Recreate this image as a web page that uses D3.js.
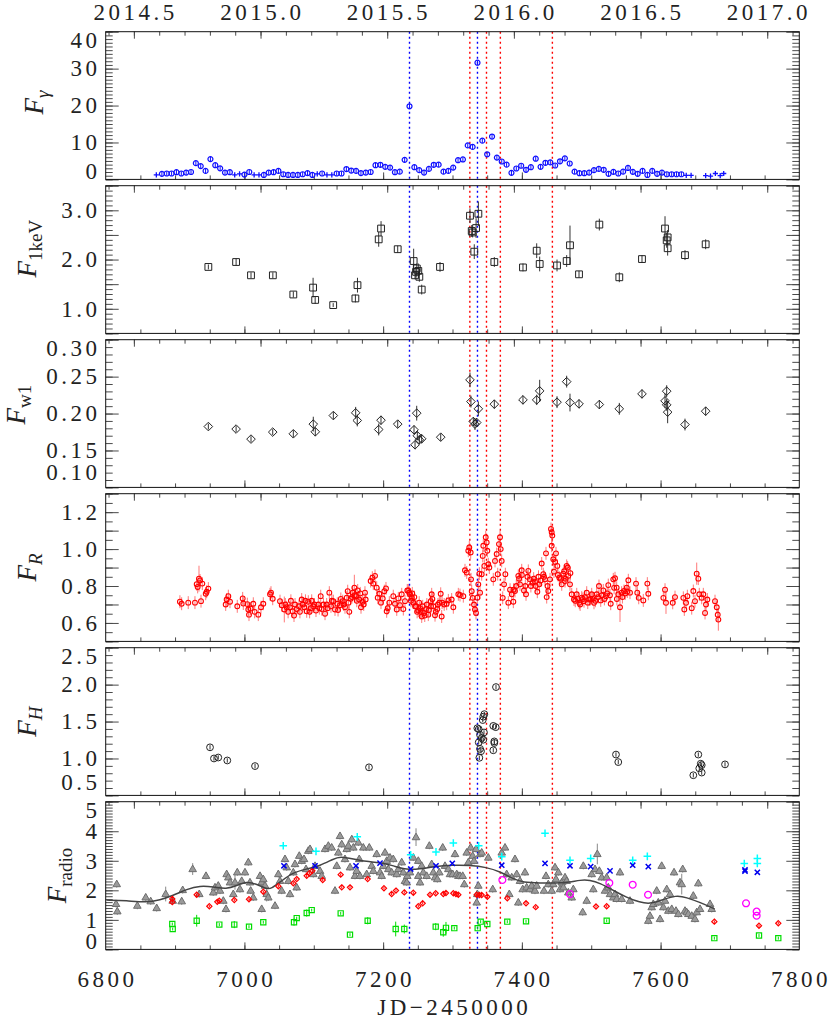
<!DOCTYPE html>
<html>
<head>
<meta charset="utf-8">
<script src="https://cdn.jsdelivr.net/npm/d3@7"></script>
<style>
body { margin: 0; background: #fff; }
svg { display: block; }
</style>
</head>
<body>
<svg id="chart" width="830" height="1021"></svg>
<script>
// ---- data: [JD-2450000, flux, (error)] ----
const fermiDet = [[6881,1.5],[6888,1.6],[6895,1.6],[6902,1.95],[6909,1.6],[6916,1.85],[6923,2.0],[6930,4.4],[6937,3.6],[6944,2.3],[6951,5.5],[6958,3.85],[6965,3.0],[6972,1.85],[6979,1.95],[7000,1.3],[7007,2.0],[7028,1.2],[7035,1.85],[7042,1.95],[7049,2.3],[7056,1.4],[7063,1.2],[7070,1.2],[7077,1.2],[7084,1.4],[7091,1.7],[7098,1.2],[7112,1.6],[7133,1.6],[7140,1.6],[7147,2.8],[7154,2.4],[7161,2.3],[7168,1.7],[7175,1.85],[7182,2.0],[7189,3.85],[7196,3.95],[7203,3.4],[7210,3.2],[7217,1.95],[7224,2.1],[7231,5.3],[7238,19.8],[7245,3.3],[7252,2.5],[7259,1.85],[7266,2.85],[7273,3.95],[7280,4.0],[7287,2.1],[7294,2.3],[7301,3.2],[7308,5.2],[7315,5.4],[7322,9.2],[7329,8.8],[7336,31.6],[7343,10.5],[7350,6.8],[7357,11.6],[7364,5.9],[7371,4.85],[7378,4.0],[7385,1.77],[7392,2.95],[7399,3.7],[7406,2.6],[7413,3.3],[7420,5.6],[7427,3.4],[7434,4.5],[7441,4.6],[7448,3.76],[7455,4.9],[7462,5.7],[7469,4.3],[7476,2.1],[7483,1.68],[7490,1.68],[7497,1.85],[7504,2.5],[7511,2.85],[7518,2.6],[7525,1.5],[7532,2.04],[7539,1.6],[7546,2.1],[7553,3.1],[7560,2.04],[7567,1.5],[7574,2.3],[7581,1.2],[7588,2.3],[7595,1.5],[7602,1.85],[7609,1.4],[7616,1.4],[7623,1.4],[7630,1.4]];
const fermiUL = [[6873,1.2],[6986,1.2],[6993,1.5],[7014,1.2],[7021,1.2],[7105,1.5],[7119,1.2],[7126,1.2],[7637,1.1],[7644,1.1],[7665,1.0],[7672,0.9],[7679,1.6],[7686,1.0],[7691,1.6]];
const fermiErr = 0.6;

const xray1keV = [[6948,1.85,0.05],[6988,1.95,0.07],[7009.5,1.68,0.06],[7041,1.68,0.06],[7070.5,1.29,0.06],[7099,1.43,0.2],[7102,1.18,0.08],[7128,1.075,0.04],[7160,1.21,0.08],[7163,1.48,0.15],[7193.6,2.41,0.15],[7197,2.63,0.15],[7221,2.21,0.07],[7244,1.97,0.25],[7246,1.68,0.08],[7247.5,1.75,0.1],[7248.5,1.82,0.1],[7250.7,1.77,0.15],[7252.2,1.65,0.1],[7255.6,1.39,0.1],[7282,1.85,0.1],[7325.2,2.89,0.15],[7327.7,2.58,0.12],[7329,2.55,0.1],[7331.4,2.16,0.15],[7334,2.64,0.2],[7337.3,2.93,0.25],[7360.3,1.95,0.1],[7401.6,1.84,0.08],[7421.4,2.18,0.15],[7425.7,1.91,0.15],[7450.7,1.88,0.12],[7464.6,1.97,0.12],[7469.4,2.29,0.4],[7482.4,1.70,0.07],[7511.7,2.71,0.12],[7540.5,1.64,0.1],[7573.2,2.01,0.08],[7606.4,2.63,0.25],[7608.8,2.39,0.15],[7610.2,2.45,0.15],[7610.2,2.23,0.15],[7635.2,2.09,0.1],[7665,2.31,0.1]];

const uvw1 = [[6948,0.1824,0.004],[6988,0.179,0.004],[7009.5,0.1654,0.004],[7040.8,0.1749,0.004],[7070.5,0.1726,0.005],[7099.3,0.1857,0.01],[7102.2,0.1753,0.006],[7128.2,0.1973,0.005],[7160.4,0.201,0.008],[7162.7,0.1906,0.008],[7193.6,0.1784,0.008],[7196.9,0.191,0.006],[7221,0.1857,0.005],[7244.5,0.178,0.006],[7248.4,0.2005,0.01],[7246,0.1577,0.006],[7249.3,0.1699,0.006],[7252.2,0.1645,0.006],[7255.6,0.1658,0.006],[7283,0.168,0.005],[7325.2,0.2456,0.01],[7326.6,0.2162,0.008],[7330,0.1892,0.006],[7332.4,0.1857,0.008],[7334.9,0.1878,0.006],[7337.3,0.2064,0.01],[7360.3,0.2127,0.006],[7401.6,0.2185,0.006],[7421.4,0.2185,0.007],[7425.7,0.2307,0.015],[7450.7,0.2154,0.008],[7464.6,0.2432,0.008],[7469.4,0.2149,0.012],[7482.4,0.2131,0.006],[7511.7,0.2122,0.006],[7540.5,0.2064,0.008],[7573.2,0.2266,0.006],[7606.4,0.2172,0.01],[7608.8,0.2303,0.008],[7608.8,0.2118,0.008],[7610.2,0.2019,0.015],[7635.2,0.1851,0.008],[7665,0.2032,0.006]];

const optR = [[6907,0.715],[6909.5,0.704],[6919,0.71],[6928.7,0.71],[6931.2,0.81],[6932.6,0.795],[6934.5,0.84,0.07],[6936,0.83],[6937.4,0.718],[6939.3,0.813],[6944.2,0.758],[6945.6,0.769],[6948,0.786],[6973,0.70],[6974.4,0.727],[6976.8,0.745],[6979.2,0.715],[6989.7,0.69],[6997.5,0.733],[6998.4,0.705],[7004.2,0.702],[7005.6,0.673],[7006.6,0.645],[7009,0.678],[7012.8,0.704],[7014.8,0.66],[7020,0.645],[7023.9,0.685],[7027.2,0.704],[7036.9,0.755],[7038.3,0.764],[7040.8,0.731],[7051.3,0.718],[7053.8,0.696],[7057.5,0.673,0.07],[7061,0.685],[7065.7,0.685],[7069.6,0.663],[7071.5,0.64],[7075.4,0.675],[7078.7,0.69],[7082.6,0.727],[7086.3,0.685],[7089.8,0.663],[7092.1,0.715],[7095.6,0.68],[7099.3,0.69],[7103.2,0.667],[7106.5,0.70],[7110,0.745],[7111.4,0.675],[7116.2,0.65],[7118.6,0.70],[7122.4,0.764],[7124.8,0.69],[7128.2,0.718],[7130.6,0.673],[7133.9,0.704],[7137.8,0.696],[7141.7,0.718],[7145,0.685],[7147.5,0.737],[7148.9,0.772],[7151.2,0.66],[7153.2,0.731],[7156.1,0.764],[7158.5,0.791,0.07],[7160.9,0.745],[7163.3,0.776],[7165.6,0.727],[7168.1,0.685],[7170.5,0.715],[7173.8,0.764],[7174.8,0.727],[7182,0.827],[7184.4,0.845],[7185.8,0.813],[7188.3,0.855],[7190.7,0.791],[7192.2,0.737],[7194.5,0.758],[7196.9,0.71],[7199.4,0.733],[7201.7,0.772],[7204.1,0.787],[7205.1,0.663],[7206.6,0.68],[7208.9,0.71],[7214.6,0.745],[7217.1,0.704],[7219.6,0.673],[7221.9,0.733],[7224.3,0.696],[7226.8,0.755],[7229.1,0.675],[7231.5,0.718],[7234.8,0.776],[7236.3,0.776],[7237.7,0.764],[7238.7,0.755],[7241.2,0.737],[7243.5,0.71],[7246,0.69],[7247.4,0.69],[7250.7,0.667],[7253.2,0.68],[7255.6,0.635],[7258.9,0.654],[7261.8,0.675],[7265.1,0.645],[7268.6,0.718],[7270,0.755],[7272.3,0.69],[7274.8,0.642],[7278.1,0.675],[7281,0.71],[7283,0.758],[7284.4,0.635],[7291.6,0.704],[7294,0.722],[7298.8,0.727],[7301.2,0.685],[7308.4,0.755],[7310.8,0.751],[7315.6,0.745],[7318,0.885],[7320.5,0.873],[7322.8,0.991],[7324.2,1.009],[7326.2,0.982],[7326.7,0.836],[7327.7,0.772],[7329.1,0.736],[7331,0.70],[7332.4,0.673],[7333.9,0.654],[7335.8,0.737],[7337.2,0.809],[7338.7,0.867],[7339.7,0.764],[7342.1,0.864],[7343.6,0.963],[7344.4,1.018],[7345.9,0.909],[7347.9,1.064],[7349.3,1.036],[7350.2,0.991],[7351.6,0.918],[7353.1,0.90],[7358.8,0.836],[7361.3,0.936],[7363.7,0.973],[7365.2,0.864],[7367,1.027],[7368.5,1.064],[7369.5,1.0],[7370.9,0.936],[7372.4,0.736],[7374.3,0.809],[7376.2,0.864],[7380.5,0.71],[7385.4,0.755],[7387.7,0.715],[7390.1,0.773],[7394.9,0.855],[7397.3,0.809],[7399.8,0.885],[7403.1,0.776],[7406,0.755],[7409.3,0.882],[7411.7,0.836],[7415.6,0.818],[7418.9,0.824],[7422.3,0.769],[7425.2,0.809],[7428.6,0.922],[7430.9,0.864],[7433.4,0.836],[7434.8,0.977],[7435.8,0.74],[7438.1,0.773],[7440.6,0.836],[7442,1.109],[7443,1.091],[7443.9,1.073],[7443,1.018],[7445.3,0.945],[7446.3,0.878],[7449.2,0.977],[7451.1,0.909],[7454,0.845],[7457.5,0.809],[7459.8,0.867],[7462.2,0.827],[7464.6,0.909],[7467,0.855],[7469.4,0.809],[7471.9,0.755],[7475.2,0.727],[7479.1,0.755],[7482.8,0.709],[7486.3,0.737],[7489.6,0.718],[7493.5,0.764],[7497.2,0.727],[7500.7,0.755],[7504,0.709],[7507.9,0.755],[7511.2,0.80],[7513.7,0.722],[7517.4,0.776],[7521.3,0.745],[7524.6,0.805],[7528.1,0.704],[7531.8,0.836],[7534.3,0.842],[7536.7,0.791],[7539,0.755],[7541.5,0.685,0.08],[7543.9,0.764],[7547.2,0.773],[7551.2,0.791],[7553.5,0.831],[7555.9,0.764],[7564.6,0.813],[7566.4,0.764],[7568.5,0.736],[7575.1,0.722],[7580.9,0.813],[7582.3,0.758],[7604,0.736],[7606.4,0.78],[7607.8,0.709,0.06],[7617.5,0.709],[7620.8,0.74],[7632.8,0.736],[7634.2,0.673],[7636.7,0.709],[7638.6,0.745],[7644.9,0.68],[7647.2,0.773],[7649.6,0.718],[7652.1,0.867,0.06],[7654.4,0.84],[7655.8,0.755],[7659.3,0.736],[7661.6,0.755],[7664.1,0.654],[7665.5,0.70],[7667.4,0.727],[7678.5,0.718],[7681,0.685],[7682.4,0.645],[7683.3,0.618,0.06],
    [7059,0.70],[7063,0.66],[7067,0.72],[7073,0.70],[7080,0.66],[7084,0.70],[7088,0.72],[7094,0.66],[7097,0.72],[7101,0.70],[7108,0.68],[7114,0.70],[7120,0.68],[7126,0.72],[7135,0.67],[7139,0.73],[7143,0.70],[7150,0.71],[7155,0.74],[7159,0.75],[7162,0.72],[7167,0.76],[7172,0.70],
    [7240,0.72],[7242,0.76],[7245,0.74],[7249,0.66],[7252,0.71],[7254,0.66],[7257,0.69],[7260,0.64],[7263,0.70],[7266,0.67],[7269,0.69],[7271,0.73],[7276,0.66],[7279,0.70],[7285,0.71],[7288,0.70],
    [7383,0.78],[7388,0.78],[7392,0.80],[7396,0.84],[7400,0.86],[7405,0.80],[7408,0.85],[7413,0.80],[7417,0.84],[7420,0.80],[7424,0.85],[7427,0.83],[7432,0.85],[7437,0.80],[7448,0.93],[7452,0.86],[7456,0.84],[7461,0.88],[7463,0.84],[7466,0.90],[7470,0.87],
    [7477,0.72],[7481,0.73],[7484,0.70],[7488,0.73],[7491,0.74],[7495,0.71],[7499,0.73],[7502,0.73],[7506,0.72],[7510,0.74],[7515,0.75],[7519,0.73],[7523,0.76],[7527,0.75],[7533,0.79],[7537,0.73],[7545,0.74],[7549,0.76],[7552,0.77]];
const optRErr = 0.035;

const nirH = [[6950.4,1.151],[6956.1,1.0],[6962.3,1.013],[6975.3,0.973],[7015.3,0.897],[7179.6,0.88],[7335.8,1.41],[7337.8,1.397],[7339.7,1.32],[7337.8,1.218],[7339.7,1.13],[7338.7,1.009],[7341.1,1.098],[7342.1,1.277],[7343.6,1.52],[7344.4,1.566],[7345.9,1.60],[7344.4,1.254],[7345.4,1.352],[7358.8,1.441],[7362.3,1.424],[7360.3,1.231],[7358.8,1.111],[7360.3,1.21],[7362.7,1.967],[7535.7,1.053],[7539,0.951],[7654.4,1.053],[7657.9,0.929],[7659.3,0.91],[7655.8,0.866],[7659.3,0.809],[7647.2,0.773],[7692.9,0.92]];
const nirHErr = 0.03;

const radio15 = [[6815.9,2.21],[6814.9,1.54],[6816.7,1.29],[6845.6,1.48],[6857.7,1.76],[6864.9,1.63],[6873.5,1.40],[6886.5,1.875,0.25],[6896.6,1.65],[6909.6,1.63],[6911,2.01],[6925.4,2.72,0.2],[6934.9,1.875],[6944.6,2.49],[6955.1,1.93],[6957.6,2.10],[6962.3,2.16],[6964.8,1.99],[6969.6,1.65],[6973.4,1.37],[6974.4,2.55],[6976.8,2.44],[6979.2,2.27],[6984,1.875],[6986.4,2.27,0.25],[6989.7,2.61],[6993.6,2.04],[6996.1,2.32],[7000.8,2.61],[7005.6,2.95],[7008,2.27],[7009,1.99],[7012.8,1.76],[7022.5,2.49],[7024.9,2.27],[7027.2,2.38],[7029.7,2.16],[7032.1,1.875,0.25],[7034.4,1.76],[7024.9,1.37],[7044.1,1.48],[7048.9,2.55],[7051.3,2.32],[7053.7,1.99],[7058.5,3.06],[7061,2.78],[7063.3,2.32],[7065.7,1.875],[7070.5,2.61],[7072.9,2.89],[7075.4,2.10],[7079.1,3.17],[7082.6,3.0],[7085.9,3.06],[7088.8,2.72],[7092.1,3.34],[7094.6,3.40],[7099.3,2.55],[7101.8,2.83],[7109,2.66],[7111.4,2.49],[7116.2,3.40],[7121,3.51],[7125.8,3.45],[7130.6,1.99],[7133.1,2.83],[7135.4,3.28],[7137.8,3.84],[7140.3,3.56],[7145,3.06],[7147.5,3.40],[7149.8,3.51],[7152.2,2.78],[7154.8,3.73],[7157,3.45],[7159.4,2.49],[7161.9,2.66],[7164.2,3.62],[7165.6,3.06],[7166.6,2.49],[7171.4,3.45],[7176.3,2.55],[7180,3.45],[7183.5,2.83],[7185.8,2.66],[7190.7,3.23],[7195.5,2.61],[7197.9,2.49],[7200.2,2.83],[7202.7,3.28],[7205.1,3.0],[7207.5,2.72],[7209.9,3.11],[7212.3,2.61],[7214.6,3.06],[7219.6,2.55],[7221.9,2.72],[7226.8,2.95],[7229.1,2.61],[7231.5,2.32],[7234.8,2.49],[7238.7,2.61],[7243.5,3.11],[7247.4,3.80,0.3],[7250.7,3.0],[7234,2.27],[7250.7,2.49],[7253.2,2.27],[7255.6,2.83],[7257.9,2.61],[7262.8,2.49],[7266.6,3.51],[7270,2.89],[7272.3,2.61],[7274.8,2.44],[7278.1,2.38],[7281,2.61],[7285.9,3.45],[7289.2,2.83],[7294,2.72],[7296.4,2.55],[7300.3,2.55],[7303.6,3.23],[7306.1,2.55],[7308.4,2.49],[7310.8,2.49],[7314.7,2.49],[7317,2.21],[7320.5,3.28],[7322.8,2.95],[7326.2,3.45],[7329.1,3.17],[7331,3.0],[7333.9,3.40],[7334.9,1.59],[7335.8,1.875],[7337.2,2.16],[7339.7,3.23],[7342.1,3.28],[7351.6,3.11],[7358,2.04],[7371,3.28],[7375.7,3.45],[7378.1,2.55],[7381.9,1.875],[7385.4,2.44],[7390.1,3.06],[7392.6,2.55],[7394.9,1.59],[7397.3,2.32],[7401.2,2.04],[7404.5,2.61],[7406.9,2.10],[7411.7,2.04],[7414.2,2.16],[7418.9,1.99],[7421.4,2.16],[7431.9,1.99],[7434.8,2.49],[7438.1,2.21],[7443,1.99],[7445.3,2.21],[7447.8,2.78],[7449.2,2.38],[7452.6,2.61],[7455,2.04],[7457.5,2.27],[7459.8,2.10],[7462.2,2.44],[7464.6,2.32],[7467,1.93],[7471.9,1.76],[7474.2,2.04],[7487.7,1.26],[7488.6,2.83],[7493.5,1.65],[7500.7,2.55],[7503,2.04],[7505.5,2.72],[7508.8,3.23,0.35],[7511.7,2.66],[7515.1,2.44],[7519.9,1.99],[7522.3,2.44],[7524.6,2.10],[7527.1,1.875],[7531.8,1.76],[7534.3,1.875],[7536.7,1.71],[7541.5,2.61],[7543.9,1.71],[7555.9,1.65],[7582.3,0.97],[7584.7,1.14],[7587.2,1.43],[7589.5,1.54],[7594.4,1.99],[7596.7,1.59],[7599.2,1.03],[7601.6,2.83],[7604,1.43],[7606.4,1.65],[7608.9,2.04],[7611.2,1.31],[7613.6,1.875],[7616.1,1.37],[7619.4,2.61],[7622.2,1.31],[7625.6,1.20],[7628,2.27],[7630.5,2.21,0.35],[7631.9,2.72],[7635.2,1.31],[7637.6,1.26],[7640,1.20],[7644.9,1.14],[7647.2,1.82],[7649.6,1.03],[7652.1,1.26],[7654.4,2.24],[7656.9,1.37],[7671.3,1.54],[7673.7,1.37]];
const radio15Err = 0.12;
const radioSmooth = [[6801,1.67],[6830,1.65],[6859,1.59],[6878,1.67],[6897,1.82],[6917,2.04],[6936,2.16],[6955,2.12],[6974,2.04],[6989,2.16],[7003,2.30],[7018,2.21],[7032,2.04],[7039,2.06],[7051,2.27],[7070,2.61],[7090,2.72],[7109,2.83],[7128,3.06],[7138,3.15],[7157,3.06],[7176,2.97],[7195,2.95],[7215,2.83],[7234,2.69],[7253,2.72],[7272,2.80],[7301,2.86],[7325,2.85],[7349,2.78],[7368,2.64],[7388,2.38],[7402,2.27],[7426,2.25],[7450,2.24],[7469,2.27],[7484,2.35],[7498,2.35],[7513,2.24],[7532,1.99],[7551,1.76],[7570,1.59],[7585,1.54],[7599,1.65],[7623,1.84],[7637,1.76],[7657,1.59],[7678,1.37]];
const radioRed = [[6896,1.71],[6896,1.60],[6931.2,1.85],[6949.4,1.46],[6960.9,1.61],[6963.8,1.65],[6985.4,1.67],[7006.6,1.70],[7027.2,1.95],[7048.9,2.14],[7070.5,2.24],[7075.4,2.38],[7089.8,2.49],[7093.6,2.58],[7097.9,2.66],[7112.9,2.35],[7138.8,2.53],[7140.3,2.10],[7152.2,2.10],[7177.7,2.38],[7201.2,2.07],[7212.3,1.875],[7218.5,1.99],[7230.5,1.93],[7243.5,1.92],[7250.7,1.46],[7257,1.56],[7267.6,1.85],[7275.8,1.90],[7286.7,1.875],[7290.6,1.91],[7301.2,1.90],[7305,1.875],[7308.4,1.85],[7334.9,1.85],[7338.7,1.84],[7342.1,1.84],[7350.2,1.78],[7379,1.73],[7406,1.56],[7420,1.43],[7506.9,1.45],[7522.3,1.46],[7677.5,0.94],[7741.9,0.80],[7769.7,0.885]];
const radioGreen = [[6896,0.86],[6896.6,0.69],[6931.2,0.97,0.2],[6963.8,0.84],[6985.4,0.84,0.12],[7006.6,0.77],[7027.2,0.92],[7071.5,0.92,0.12],[7075.4,1.06],[7089.8,1.23,0.12],[7097,1.33],[7138.8,1.22],[7152.2,0.50],[7177.7,0.97,0.12],[7218.1,0.69,0.25],[7230.5,0.69,0.15],[7275.8,0.77,0.12],[7286.7,0.58,0.15],[7290.6,0.73,0.2],[7302.6,0.72],[7336.3,0.72],[7340.6,0.94],[7350.2,0.86],[7379,0.94],[7406,0.95],[7522.3,0.97],[7677.5,0.38],[7741.9,0.47],[7769.7,0.38]];
const radioBlue = [[7057,2.83],[7101.8,2.83],[7160.9,2.83],[7195.5,2.92],[7239.7,2.72],[7276.2,2.83],[7299.7,2.91],[7371,2.85],[7433.4,2.91],[7469.4,2.83],[7499.2,2.80],[7527.1,2.66],[7559.8,2.85],[7582.3,2.80],[7721.7,2.69],[7721.7,2.65],[7739.5,2.61]];
const radioCyan = [[7056,3.51],[7103.2,3.32],[7162.7,3.81],[7239.7,3.20],[7276.2,3.30],[7301.2,3.60],[7337.8,3.51],[7371,3.14],[7433.4,3.93],[7469.4,3.02],[7499.2,3.08],[7559.8,3.02],[7580.9,3.15],[7720.7,2.91],[7739.5,3.08],[7739.5,2.91]];
const radioMagenta = [[7371.9,2.35],[7469.4,1.875],[7526.1,2.25],[7559.8,2.19],[7581.9,1.85],[7723.2,1.56],[7738.5,1.28],[7738.5,1.14]];

// epochs marked by dotted lines
const blueEpochs = [7238, 7336];
const redEpochs = [7325, 7349, 7369, 7444];

// axis labels
const yearLabels = ['2014.5', '2015.0', '2015.5', '2016.0', '2016.5', '2017.0'];
const jdLabels = [6800, 7000, 7200, 7400, 7600, 7800];

// ---- layout ----
const left = 105.7, right = 799.3;
const top0 = 31.7, panelH = 147.7, step = 154;
const font = "'Liberation Serif', 'Times New Roman', serif";
const ls = 3.5; // letter spacing of tick labels

const svg = d3.select('#chart');
const x = d3.scaleLinear().domain([6800, 7800]).range([left, right]);
const yearToJD = yr => 1544.5 + (yr - 2000) * 365.25;

const sym = {
    circle: r => `M${r},0A${r},${r} 0 1,1 ${-r},0A${r},${r} 0 1,1 ${r},0Z`,
    square: s => `M${-s},${-s}H${s}V${s}H${-s}Z`,
    diamond: s => `M0,${-s}L${s},0L0,${s}L${-s},0Z`,
    triangle: s => `M0,${-s}L${s * 0.95},${s * 0.65}L${-s * 0.95},${s * 0.65}Z`,
    plus: s => `M${-s},0H${s}M0,${-s}V${s}`,
    cross: s => `M${-s},${-s}L${s},${s}M${-s},${s}L${s},${-s}`
};

const panels = [
    { domain: [0, 40], labels: [0, 10, 20, 30, 40], fmt: d3.format('d'), major: 10, minor: 1,
      title: ['F', 'γ', true], tx: 43, tdy: -3, botShift: 0 },
    { domain: [0.5, 3.5], labels: [1, 2, 3], fmt: d3.format('.1f'), major: 0.5, minor: 0.1,
      title: ['F', '1keV', false], tx: 36, tdy: -11, botShift: 0 },
    { domain: [0.1, 0.3], labels: [0.1, 0.15, 0.2, 0.25, 0.3], fmt: d3.format('.2f'), major: 0.05, minor: 0.01,
      title: ['F', 'w1', false], tx: 25, tdy: -9, botShift: 7 },
    { domain: [0.5, 1.3], labels: [0.6, 0.8, 1.0, 1.2], fmt: d3.format('.1f'), major: 0.1, minor: 0.05,
      title: ['F', 'R', true], tx: 36, tdy: 0, botShift: 0 },
    { domain: [0.5, 2.5], labels: [0.5, 1.0, 1.5, 2.0, 2.5], fmt: d3.format('.1f'), major: 0.5, minor: 0.1,
      title: ['F', 'H', true], tx: 36, tdy: 0, botShift: 5 },
    { domain: [0, 5], labels: [0, 1, 2, 3, 4, 5], fmt: d3.format('d'), major: 1, minor: 0.1,
      title: ['F', 'radio', false], tx: 66, tdy: 0, botShift: 0 }
];

function drawMarks(g, data, y, shape, size, o) {
    if (o.err !== undefined) {
        g.append('g').selectAll('line').data(data).join('line')
            .attr('x1', d => x(d[0])).attr('x2', d => x(d[0]))
            .attr('y1', d => y(d[1] - (d[2] ?? o.err)))
            .attr('y2', d => y(d[1] + (d[2] ?? o.err)))
            .attr('stroke', o.errColor || o.stroke)
            .attr('stroke-width', o.errWidth || 1)
            .attr('opacity', o.errOpacity || 1);
    }
    g.append('g').selectAll('path').data(data).join('path')
        .attr('transform', d => `translate(${x(d[0])},${y(d[1])})`)
        .attr('d', sym[shape](size))
        .attr('fill', o.fill || 'none')
        .attr('stroke', o.stroke)
        .attr('stroke-width', o.sw || 1);
}

const yMinorJD = d3.range(6850, 7800, 50);
const jdMajor = [7000, 7200, 7400, 7600];
const yrMinor = d3.range(2014.4, 2017.15, 0.1).map(yearToJD);
const yrMajor = yearLabels.map(s => yearToJD(+s));

panels.forEach((p, i) => {
    const top = top0 + i * step;
    const g = svg.append('g').attr('transform', `translate(0,${top})`);
    const y = d3.scaleLinear().domain(p.domain).range([panelH, 0]);
    p.y = y;

    g.append('clipPath').attr('id', 'clip' + i)
        .append('rect').attr('x', left).attr('y', 0)
        .attr('width', right - left).attr('height', panelH);

    const eps = 1e-9;
    const minorVals = d3.range(p.domain[0], p.domain[1] + eps, p.minor);
    const majorVals = d3.range(p.domain[0], p.domain[1] + eps, p.major);

    const axis = (gen, tx, ty, vals, len) => g.append('g')
        .attr('transform', `translate(${tx},${ty})`)
        .call(gen.tickValues(vals).tickSize(-len).tickFormat(''))
        .call(a => a.select('.domain').remove())
        .call(a => a.selectAll('line').attr('stroke', '#4a4a4a'));

    axis(d3.axisLeft(y), left, 0, minorVals, 7);
    axis(d3.axisLeft(y), left, 0, majorVals, 13);
    axis(d3.axisRight(y), right, 0, minorVals, 7);
    axis(d3.axisRight(y), right, 0, majorVals, 13);
    axis(d3.axisBottom(x), 0, panelH, yMinorJD, 4);
    axis(d3.axisBottom(x), 0, panelH, jdMajor, 7);
    axis(d3.axisTop(x), 0, 0, yrMinor, 4);
    axis(d3.axisTop(x), 0, 0, yrMajor, 7);

    // y tick labels
    g.append('g').selectAll('text').data(p.labels).join('text')
        .attr('x', 97 + ls)
        .attr('y', v => {
            if (Math.abs(v - p.domain[1]) < 1e-9) return y(v) + 16.3;
            if (Math.abs(v - p.domain[0]) < 1e-9) return y(v) - p.botShift;
            return y(v) + 7.8;
        })
        .attr('text-anchor', 'end')
        .attr('font-family', font).attr('font-size', 23)
        .attr('letter-spacing', ls).attr('fill', '#222')
        .text(p.fmt);

    // y title
    const t = g.append('text')
        .attr('transform', `translate(${p.tx},${panelH / 2 + p.tdy}) rotate(-90)`)
        .attr('text-anchor', 'middle')
        .attr('font-family', font).attr('fill', '#222');
    t.append('tspan').attr('font-size', 27).attr('font-style', 'italic').text(p.title[0]);
    t.append('tspan').attr('font-size', 19).attr('dy', 6)
        .attr('font-style', p.title[2] ? 'italic' : 'normal').text(p.title[1]);

    // dotted epoch lines
    const ep = g.append('g');
    ep.selectAll('line.r').data(redEpochs).join('line')
        .attr('x1', d => x(d)).attr('x2', d => x(d)).attr('y1', 0).attr('y2', panelH)
        .attr('stroke', '#ff0000').attr('stroke-width', 1.4).attr('stroke-dasharray', '2,3');
    ep.selectAll('line.b').data(blueEpochs).join('line')
        .attr('x1', d => x(d)).attr('x2', d => x(d)).attr('y1', 0).attr('y2', panelH)
        .attr('stroke', '#0000ff').attr('stroke-width', 1.4).attr('stroke-dasharray', '2,3');

    p.data = g.append('g').attr('clip-path', `url(#clip${i})`);

    // frame
    g.append('rect').attr('x', left).attr('y', 0)
        .attr('width', right - left).attr('height', panelH)
        .attr('fill', 'none').attr('stroke', '#111').attr('stroke-width', 1);
});

// panel 1: gamma rays
drawMarks(panels[0].data, fermiDet, panels[0].y, 'circle', 2.5,
    { stroke: '#1010ff', sw: 1.2, err: fermiErr });
drawMarks(panels[0].data, fermiUL, panels[0].y, 'plus', 2.6,
    { stroke: '#1010ff', sw: 1.3 });

// panel 2: X-rays
drawMarks(panels[1].data, xray1keV, panels[1].y, 'square', 3.4,
    { stroke: '#222', sw: 1, err: 0.05, errColor: '#333' });

// panel 3: UV w1
drawMarks(panels[2].data, uvw1, panels[2].y, 'diamond', 4.3,
    { stroke: '#222', sw: 1, err: 0.005, errColor: '#333' });

// panel 4: optical R
drawMarks(panels[3].data, optR, panels[3].y, 'circle', 2.4,
    { stroke: '#ff0000', sw: 1.1, err: optRErr, errColor: '#ff4040', errOpacity: 0.7 });

// panel 5: near-IR H
drawMarks(panels[4].data, nirH, panels[4].y, 'circle', 3.4,
    { stroke: '#222', sw: 1, err: nirHErr, errColor: '#333' });

// panel 6: radio
const pr = panels[5];
drawMarks(pr.data, radio15, pr.y, 'triangle', 4,
    { stroke: '#6e6e6e', fill: '#9a9a9a', sw: 1, err: radio15Err, errColor: '#888' });
pr.data.append('path')
    .datum(radioSmooth)
    .attr('fill', 'none').attr('stroke', '#444').attr('stroke-width', 1.5)
    .attr('d', d3.line().x(d => x(d[0])).y(d => pr.y(d[1])).curve(d3.curveBasis));
drawMarks(pr.data, radioRed, pr.y, 'diamond', 2.6,
    { stroke: '#ff0000', sw: 1.2, err: 0.04 });
drawMarks(pr.data, radioGreen, pr.y, 'square', 2.6,
    { stroke: '#00dd00', sw: 1.2, err: 0.05 });
drawMarks(pr.data, radioBlue, pr.y, 'cross', 2.6,
    { stroke: '#0000ee', sw: 1.5 });
drawMarks(pr.data, radioCyan, pr.y, 'plus', 3.8,
    { stroke: '#00ffff', sw: 1.5 });
drawMarks(pr.data, radioMagenta, pr.y, 'circle', 3.4,
    { stroke: '#ff00ff', sw: 1.3 });

// top year labels
svg.append('g').selectAll('text').data(yearLabels).join('text')
    .attr('x', d => x(yearToJD(+d)) + ls / 2)
    .attr('y', 20)
    .attr('text-anchor', 'middle')
    .attr('font-family', font).attr('font-size', 23)
    .attr('letter-spacing', ls).attr('fill', '#222')
    .text(d => d);

// bottom JD labels
const bottom = top0 + 5 * step + panelH;
svg.append('g').selectAll('text').data(jdLabels).join('text')
    .attr('x', d => x(d) + ls / 2)
    .attr('y', bottom + 37.5)
    .attr('text-anchor', 'middle')
    .attr('font-family', font).attr('font-size', 23)
    .attr('letter-spacing', ls).attr('fill', '#222')
    .text(d => d);

svg.append('text')
    .attr('x', (left + right) / 2 + ls / 2)
    .attr('y', 1015)
    .attr('text-anchor', 'middle')
    .attr('font-family', font).attr('font-size', 23)
    .attr('letter-spacing', ls).attr('fill', '#222')
    .text('JD\u22122450000');
</script>
